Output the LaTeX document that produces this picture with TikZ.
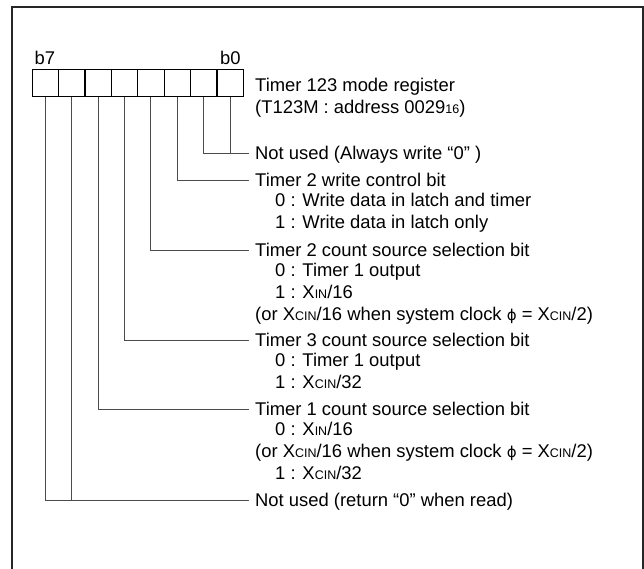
\documentclass[tikz,border=0pt]{standalone}
\usepackage{fontspec}
\setmainfont{Liberation Sans}
\newfontfamily\symfont{DejaVu Sans}
\usetikzlibrary{positioning,calc}
\lineskiplimit=-100pt
\newcommand{\subtxt}[1]{{\fontsize{12.5}{12}\selectfont #1}}
\newcommand{\optind}{\hspace*{20pt}}
\newcommand{\clkphi}{{\symfont\fontsize{15}{15}\selectfont ϕ}}

\begin{document}
\begin{tikzpicture}[
  x=1pt, y=-1pt,
  frame/.style={line width=2pt, draw=black!85},
  cell/.style={rectangle, draw=black, line width=1.2pt, minimum width=26.4pt, minimum height=27.4pt, inner sep=0},
  bitno/.style={font=\fontsize{18.4}{21.7}\selectfont, inner sep=0},
  lbl/.style={anchor=west, inner xsep=6.5pt, inner ysep=0, text height=13.2pt, text depth=0pt, font=\fontsize{18.4}{21.7}\selectfont},
  opt/.style={anchor=north west, inner sep=0, align=left, font=\fontsize{18.4}{21.7}\selectfont, execute at begin node=\strut},
  wire/.style={line width=1pt, draw=black!70}
]
  \useasboundingbox (0,0) rectangle (644,568);
  \draw[frame] (12,590) -- (12,7) -- (642.8,7) -- (642.8,590);

  % Register cells, b0 on the right
  \foreach \i in {0,...,7}
    \node[cell] (c\i) at ({230.1-26.4*\i},83) {};
  \node[bitno, anchor=base west] (b7) at ([xshift=3pt,yshift=4.5pt]c7.north west) {b7};
  \node[bitno, anchor=base east] (b0) at ([xshift=-3pt,yshift=4.5pt]c0.north east) {b0};

  % Register name
  \node[lbl] (reg) at (248.5,85) {Timer 123 mode register};
  \node[opt] (addr) at ([xshift=6.5pt,yshift=-6.51pt]reg.base west) {(T123M : address 0029\subtxt{16})};

  % Bit descriptions
  \node[lbl] (l0) at (248.5,153.3) {Not used (Always write “0” )};

  \node[lbl] (l2) at (248.5,180) {Timer 2 write control bit};
  \node[opt] (o2) at ([xshift=6.5pt,yshift=-6.51pt]l2.base west) {\optind 0 : Write data in latch and timer\\\optind 1 : Write data in latch only};

  \node[lbl] (l3) at (248.5,250) {Timer 2 count source selection bit};
  \node[opt] (o3) at ([xshift=6.5pt,yshift=-6.51pt]l3.base west) {\optind 0 : Timer 1 output\\\optind 1 : X\subtxt{IN}/16\\(or X\subtxt{CIN}/16 when system clock \clkphi{} = X\subtxt{CIN}/2)};

  \node[lbl] (l4) at (248.5,340) {Timer 3 count source selection bit};
  \node[opt] (o4) at ([xshift=6.5pt,yshift=-6.51pt]l4.base west) {\optind 0 : Timer 1 output\\\optind 1 : X\subtxt{CIN}/32};

  \node[lbl] (l5) at (248.5,409.3) {Timer 1 count source selection bit};
  \node[opt] (o5) at ([xshift=6.5pt,yshift=-6.51pt]l5.base west) {\optind 0 : X\subtxt{IN}/16\\(or X\subtxt{CIN}/16 when system clock \clkphi{} = X\subtxt{CIN}/2)\\\optind 1 : X\subtxt{CIN}/32};

  \node[lbl] (l7) at (248.5,500) {Not used (return “0” when read)};

  % Bit lines
  \foreach \b/\l in {0/0,1/0,2/2,3/3,4/4,5/5,6/7,7/7}
    \draw[wire] (c\b.south) |- (l\l.west);
\end{tikzpicture}
\end{document}
